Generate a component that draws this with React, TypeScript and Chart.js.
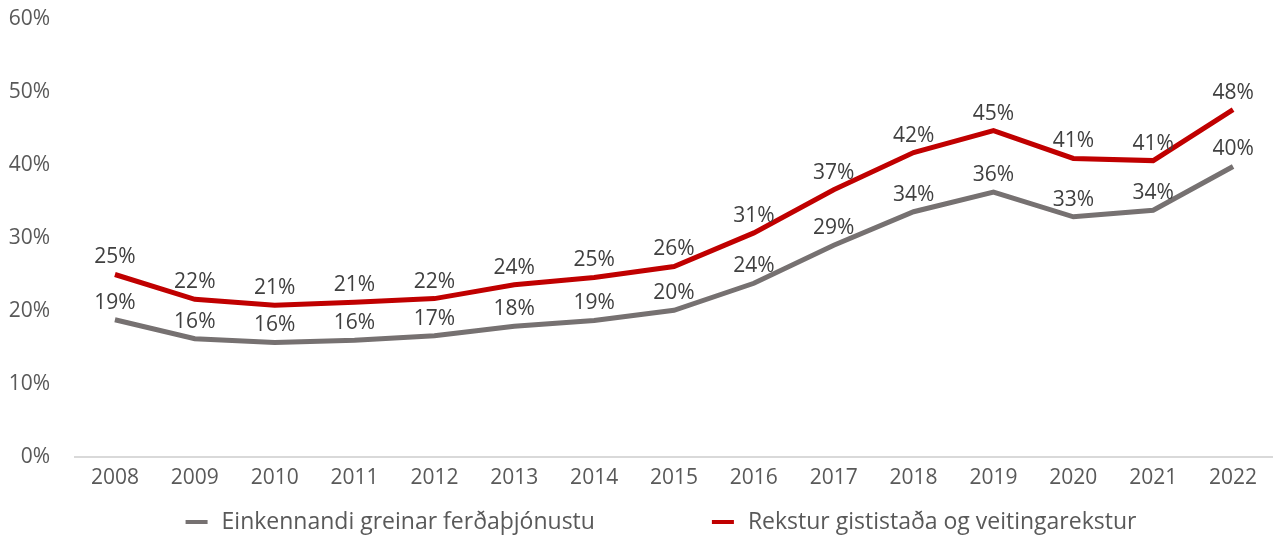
import React, { useEffect, useRef } from "react";
import { Chart, registerables } from "chart.js";

Chart.register(...registerables);

const years = ["2008","2009","2010","2011","2012","2013","2014","2015","2016","2017","2018","2019","2020","2021","2022"];
const greyName = "Einkennandi greinar ferðaþjónustu";
const redName = "Rekstur gististaða og veitingarekstur";
const greyValues = [18.8, 16.2, 15.7, 16.0, 16.6, 17.9, 18.7, 20.1, 23.8, 29.0, 33.6, 36.3, 32.9, 33.8, 39.8];
const redValues = [25.0, 21.6, 20.8, 21.2, 21.7, 23.6, 24.6, 26.1, 30.7, 36.6, 41.7, 44.7, 40.9, 40.6, 47.6];

const FONT = "'Open Sans', sans-serif";
const GREY = "#767171";
const RED = "#C00000";

const labelPlugin = {
  id: "pointLabels",
  afterDatasetsDraw(chart: any) {
    const ctx = chart.ctx;
    ctx.save();
    ctx.font = `21px ${FONT}`;
    ctx.fillStyle = "#404040";
    ctx.textAlign = "center";
    ctx.textBaseline = "middle";
    chart.data.datasets.forEach((ds: any, i: number) => {
      const meta = chart.getDatasetMeta(i);
      meta.data.forEach((pt: any, j: number) => {
        ctx.fillText(Math.round(ds.data[j]) + "%", pt.x, pt.y - 17);
      });
    });
    ctx.restore();
  },
};

const legendPlugin = {
  id: "customLegend",
  afterDraw(chart: any) {
    const ctx = chart.ctx;
    ctx.save();
    ctx.font = `23px ${FONT}`;
    ctx.textBaseline = "middle";
    ctx.textAlign = "left";
    const marker = 22;
    const gap = 14;
    const itemGap = 117;
    const items = chart.data.datasets.map((ds: any) => ({ text: ds.label, color: ds.borderColor, w: ctx.measureText(ds.label).width }));
    const total = items.reduce((s: number, it: any) => s + marker + gap + it.w, 0) + itemGap * (items.length - 1);
    let x = 661 - total / 2;
    const y = chart.height - 14;
    items.forEach((it: any) => {
      ctx.fillStyle = it.color;
      ctx.fillRect(x, y - 2, marker, 4);
      ctx.fillStyle = "#595959";
      ctx.fillText(it.text, x + marker + gap, y);
      x += marker + gap + it.w + itemGap;
    });
    ctx.restore();
  },
};

export default function App() {
  const ref = useRef<HTMLCanvasElement>(null);
  useEffect(() => {
    const chart = new Chart(ref.current!, {
      type: "line",
      data: {
        labels: years,
        datasets: [
          { label: greyName, data: greyValues, borderColor: GREY, backgroundColor: GREY, borderWidth: 5, pointRadius: 0, tension: 0 },
          { label: redName, data: redValues, borderColor: RED, backgroundColor: RED, borderWidth: 5, pointRadius: 0, tension: 0 },
        ],
      },
      options: {
        animation: false,
        responsive: true,
        maintainAspectRatio: false,
        layout: { autoPadding: false, padding: { left: 0, right: 0, top: 19, bottom: 46 } },
        plugins: {
          tooltip: { enabled: false },
          legend: { display: false },
        },
        scales: {
          x: {
            offset: true,
            afterFit(scale: any) { scale.height = 33; scale.paddingLeft = 0; scale.paddingRight = 0; },
            grid: { display: false, drawTicks: false },
            border: { display: true, color: "#d9d9d9", width: 2 },
            ticks: { font: { family: FONT, size: 21 }, color: "#595959", padding: 8, maxRotation: 0 },
          },
          y: {
            min: 0,
            max: 60,
            afterFit(scale: any) { scale.width = 75; scale.paddingTop = 0; scale.paddingBottom = 0; },
            grid: { display: false, drawTicks: false },
            border: { display: false },
            ticks: { stepSize: 10, font: { family: FONT, size: 21 }, color: "#595959", padding: 25, callback: (v: any) => v + "%" },
          },
        },
      },
      plugins: [labelPlugin, legendPlugin],
    });
    return () => chart.destroy();
  }, []);
  return (
    <div style={{ position: "fixed", left: 0, top: 0, width: 1273, height: 536, background: "#fff" }}>
      <canvas ref={ref} />
    </div>
  );
}
